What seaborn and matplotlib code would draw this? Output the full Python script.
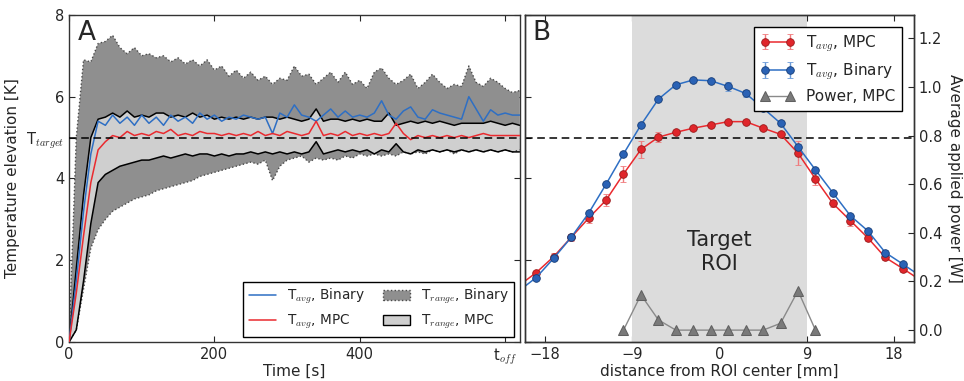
import numpy as np
import pandas as pd
import seaborn as sns
import matplotlib.pyplot as plt
from matplotlib.lines import Line2D
from matplotlib.patches import Patch

# ---- panel A: temperature elevation vs time ----
time_s = list(range(0, 630, 10))
binary_avg = [0, 1.5, 3.2, 4.6, 5.4, 5.3, 5.55, 5.35, 5.5, 5.3,
              5.55, 5.35, 5.5, 5.3, 5.55, 5.4, 5.5, 5.35, 5.6, 5.45,
              5.55, 5.4, 5.5, 5.45, 5.55, 5.5, 5.45, 5.5, 5.1, 5.6,
              5.5, 5.8, 5.55, 5.5, 5.4, 5.55, 5.7, 5.5, 5.65, 5.5,
              5.55, 5.5, 5.6, 5.9, 5.55, 5.45, 5.65, 5.75, 5.5, 5.45,
              5.68, 5.6, 5.55, 5.5, 5.45, 6.0, 5.7, 5.4, 5.68, 5.55,
              5.6, 5.55, 5.55]
mpc_avg = [0, 1.2, 2.6, 3.9, 4.7, 4.9, 5.05, 5.0, 5.15, 5.05,
           5.1, 5.05, 5.15, 5.1, 5.2, 5.05, 5.1, 5.05, 5.15, 5.1,
           5.1, 5.05, 5.1, 5.05, 5.1, 5.05, 5.15, 5.05, 5.1, 5.05,
           5.15, 5.1, 5.05, 5.1, 5.4, 5.05, 5.1, 5.05, 5.15, 5.05,
           5.1, 5.05, 5.1, 5.05, 5.1, 5.35, 5.1, 4.95, 5.05, 5.0,
           5.05, 5.0, 5.05, 5.0, 5.05, 5.0, 5.05, 5.1, 5.05, 5.05,
           5.05, 5.05, 5.05]
binary_lo = [0, 0.3, 1.3, 2.3, 2.75, 3.0, 3.2, 3.3, 3.4, 3.5,
             3.55, 3.6, 3.7, 3.75, 3.8, 3.85, 3.9, 3.95, 4.05, 4.1,
             4.15, 4.2, 4.25, 4.3, 4.35, 4.4, 4.35, 4.45, 3.95, 4.3,
             4.45, 4.5, 4.55, 4.4, 4.5, 4.45, 4.5, 4.45, 4.55, 4.5,
             4.6, 4.55, 4.6, 4.55, 4.6, 4.55, 4.65, 4.6, 4.65, 4.6,
             4.7, 4.65, 4.7, 4.6, 4.7, 4.65, 4.7, 4.65, 4.7, 4.65,
             4.7, 4.65, 4.7]
binary_hi = [0, 5.0, 6.9, 6.85, 7.3, 7.35, 7.5, 7.2, 7.05, 7.2,
             7.0, 7.05, 6.95, 7.0, 6.85, 6.95, 6.8, 6.9, 6.75, 6.9,
             6.65, 6.75, 6.5, 6.65, 6.45, 6.6, 6.4, 6.5, 6.3, 6.45,
             6.4, 6.75, 6.5, 6.55, 6.3, 6.45, 6.6, 6.35, 6.6, 6.3,
             6.4, 6.2, 6.6, 6.7, 6.45, 6.3, 6.4, 6.55, 6.2, 6.35,
             6.55, 6.35, 6.2, 6.3, 6.25, 6.75, 6.35, 6.25, 6.45, 6.35,
             6.2, 6.1, 6.15]
mpc_lo = [0, 0.3, 1.5, 2.9, 3.9, 4.1, 4.2, 4.3, 4.35, 4.4,
          4.45, 4.45, 4.5, 4.55, 4.5, 4.55, 4.6, 4.55, 4.6, 4.6,
          4.55, 4.6, 4.55, 4.6, 4.6, 4.65, 4.6, 4.65, 4.6, 4.65,
          4.6, 4.65, 4.6, 4.65, 4.9, 4.6, 4.65, 4.7, 4.65, 4.7,
          4.65, 4.7, 4.6, 4.7, 4.65, 4.85, 4.65, 4.6, 4.7, 4.65,
          4.7, 4.65, 4.7, 4.65, 4.7, 4.65, 4.7, 4.65, 4.7, 4.65,
          4.7, 4.65, 4.65]
mpc_hi = [0, 1.8, 3.6, 5.0, 5.45, 5.5, 5.6, 5.5, 5.65, 5.5,
          5.55, 5.5, 5.6, 5.6, 5.5, 5.55, 5.5, 5.6, 5.5, 5.55,
          5.45, 5.5, 5.45, 5.5, 5.45, 5.5, 5.45, 5.5, 5.5, 5.45,
          5.5, 5.45, 5.4, 5.45, 5.7, 5.4, 5.45, 5.45, 5.4, 5.45,
          5.4, 5.45, 5.4, 5.4, 5.6, 5.3, 5.35, 5.4, 5.35, 5.4,
          5.35, 5.4, 5.35, 5.3, 5.35, 5.35, 5.35, 5.35, 5.4, 5.35,
          5.3, 5.35, 5.3]

# ---- panel B: spatial profile ----
dist_mm = [-20.7, -18.9, -17.1, -15.3, -13.5, -11.7, -9.9, -8.1, -6.3, -4.5,
           -2.7, -0.9, 0.9, 2.7, 4.5, 6.3, 8.1, 9.9, 11.7, 13.5,
           15.3, 17.1, 18.9, 20.7]
binary_prof = [1.25, 1.58, 2.05, 2.56, 3.15, 3.86, 4.60, 5.31, 5.94, 6.29,
               6.41, 6.39, 6.25, 6.08, 5.72, 5.35, 4.78, 4.21, 3.65, 3.09,
               2.72, 2.19, 1.91, 1.62]
binary_err = [0.05, 0.05, 0.05, 0.05, 0.06, 0.05, 0.05, 0.05, 0.05, 0.05,
              0.04, 0.04, 0.1, 0.08, 0.05, 0.05, 0.06, 0.05, 0.05, 0.05,
              0.05, 0.05, 0.05, 0.05]
mpc_prof = [1.38, 1.70, 2.09, 2.56, 3.03, 3.47, 4.11, 4.71, 5.01, 5.13,
            5.23, 5.31, 5.39, 5.39, 5.23, 5.08, 4.62, 3.99, 3.39, 2.97,
            2.55, 2.07, 1.80, 1.52]
mpc_err = [0.05, 0.05, 0.08, 0.08, 0.12, 0.15, 0.2, 0.2, 0.12, 0.05,
           0.05, 0.04, 0.05, 0.05, 0.05, 0.05, 0.3, 0.15, 0.08, 0.12,
           0.08, 0.06, 0.08, 0.05]
power_mm = [-9.9, -8.1, -6.3, -4.5, -2.7, -0.9, 0.9, 2.7, 4.5, 6.3, 8.1, 9.9]
power_mpc = [0.0, 0.145, 0.042, 0.0, 0.0, 0.0, 0.0, 0.0, 0.0, 0.028, 0.162, 0.0]

T_TARGET = 5

sns.set_style("ticks")
plt.rcParams.update({
    "font.family": ["DejaVu Sans"],
    "mathtext.fontset": "cm",
    "xtick.direction": "in",
    "ytick.direction": "in",
    "xtick.top": True,
    "ytick.right": True,
    "xtick.major.size": 4,
    "ytick.major.size": 4,
    "axes.edgecolor": "#333333",
    "axes.linewidth": 1.0,
    "font.size": 10.5,
})

fig = plt.figure(figsize=(9.64, 3.81), dpi=100)
axA = fig.add_axes([0.0716, 0.102, 0.4675, 0.859])
axB = fig.add_axes([0.5446, 0.102, 0.4035, 0.859], sharey=axA)

df = pd.DataFrame({"t": time_s, "bin": binary_avg, "mpc": mpc_avg,
                   "blo": binary_lo, "bhi": binary_hi,
                   "mlo": mpc_lo, "mhi": mpc_hi})

dark_grey = "#8f8f8f"
light_grey = "#cfcfcf"
blue = "#2e6fc4"
red = "#ea2a2f"

t = np.asarray(time_s, dtype=float)
axA.fill_between(t, np.asarray(binary_lo), np.asarray(binary_hi),
                 facecolor=dark_grey, edgecolor="none", zorder=1)
axA.fill_between(t, np.asarray(mpc_lo), np.asarray(mpc_hi),
                 facecolor=light_grey, edgecolor="none", zorder=1.5)
for col in ["blo", "bhi"]:
    axA.plot(df["t"], df[col], ls=":", color="#4a4a4a", lw=1.0, zorder=1.8)
for col in ["mlo", "mhi"]:
    sns.lineplot(data=df, x="t", y=col, ax=axA, color="black", lw=1.1,
                 zorder=2)
sns.lineplot(data=df, x="t", y="bin", ax=axA, color=blue, lw=1.1, zorder=3)
sns.lineplot(data=df, x="t", y="mpc", ax=axA, color=red, lw=1.1, zorder=3)
axA.axhline(T_TARGET, ls="--", dashes=(5, 3), color="black", lw=1.1,
            zorder=4)

axA.set_xlim(0, 620)
axA.set_ylim(0, 8)
axA.set_xticks([0, 200, 400, 600])
axA.set_xticklabels(["0", "200", "400", "t$_{off}$"])
axA.set_yticks([0, 2, 4, 5, 6, 8])
axA.set_yticklabels(["0", "2", "4", "T$_{target}$", "6", "8"])
axA.set_xlabel("Time [s]", fontsize=11)
axA.xaxis.set_label_coords(0.5, -0.066)
axA.set_ylabel("Temperature elevation [K]", fontsize=11)
axA.text(0.02, 0.985, "A", transform=axA.transAxes, fontsize=19,
         va="top", ha="left")

legA = [
    Line2D([], [], color=blue, lw=1.1, label="T$_{avg}$, Binary"),
    Line2D([], [], color=red, lw=1.1, label="T$_{avg}$, MPC"),
    Patch(facecolor=dark_grey, edgecolor="#4a4a4a", linestyle=":",
          label="T$_{range}$, Binary"),
    Patch(facecolor=light_grey, edgecolor="black", label="T$_{range}$, MPC"),
]
axA.legend(handles=legA, ncol=2, loc="lower right", fontsize=9.8,
           fancybox=False, edgecolor="black", framealpha=1,
           borderaxespad=0.4, columnspacing=1.3)

# panel B
axB.axvspan(-9, 9, color="#dcdcdc", lw=0)
axB.axhline(T_TARGET, ls="--", dashes=(5, 3), color="black", lw=1.1)
hm = axB.errorbar(dist_mm, mpc_prof, yerr=mpc_err, color=red, ecolor="#f07a7c",
                  marker="o", ms=5.5, mfc="#e0262b", mec="#9a1a1a", mew=0.6,
                  lw=1.1, capsize=2.5, elinewidth=1.0, label="T$_{avg}$, MPC")
hb = axB.errorbar(dist_mm, binary_prof, yerr=binary_err, color=blue,
                  ecolor="#6a9ad8", marker="o", ms=5.5, mfc="#2a62b5",
                  mec="#163d78", mew=0.6, lw=1.1, capsize=2.5, elinewidth=1.0,
                  label="T$_{avg}$, Binary")
axB.text(0, 2.2, "Target\nROI", ha="center", va="center", fontsize=15,
         linespacing=1.25)
axB.set_xlim(-20.06, 20.06)
axB.set_xticks([-18, -9, 0, 9, 18])
axB.tick_params(labelleft=False)
axB.set_xlabel("distance from ROI center [mm]", fontsize=11)
axB.xaxis.set_label_coords(0.5, -0.066)
axB.text(0.02, 0.985, "B", transform=axB.transAxes, fontsize=19,
         va="top", ha="left")

axP = axB.twinx()
sns.lineplot(x=power_mm, y=power_mpc, ax=axP, color="#8a8a8a", lw=1.0,
             marker="^", ms=6.5, mfc="#7a7a7a", mec="#606060",
             label="Power, MPC", legend=False)
axP.set_ylim(-0.0494, 1.296)
axP.set_yticks([0, 0.2, 0.4, 0.6, 0.8, 1.0, 1.2])
axP.set_yticklabels([f"{v:.1f}" for v in [0, 0.2, 0.4, 0.6, 0.8, 1.0, 1.2]])
axP.set_ylabel("Average applied power [W]", rotation=270, labelpad=14,
               fontsize=11)
hp = axP.lines[0]
axP.legend(handles=[hm, hb, hp], labels=["T$_{avg}$, MPC", "T$_{avg}$, Binary",
                                         "Power, MPC"],
           loc="upper right", fontsize=11, numpoints=2, fancybox=False,
           edgecolor="black", framealpha=1, borderaxespad=0.8,
           handlelength=2.2)

fig.savefig("out.png", dpi=100)
